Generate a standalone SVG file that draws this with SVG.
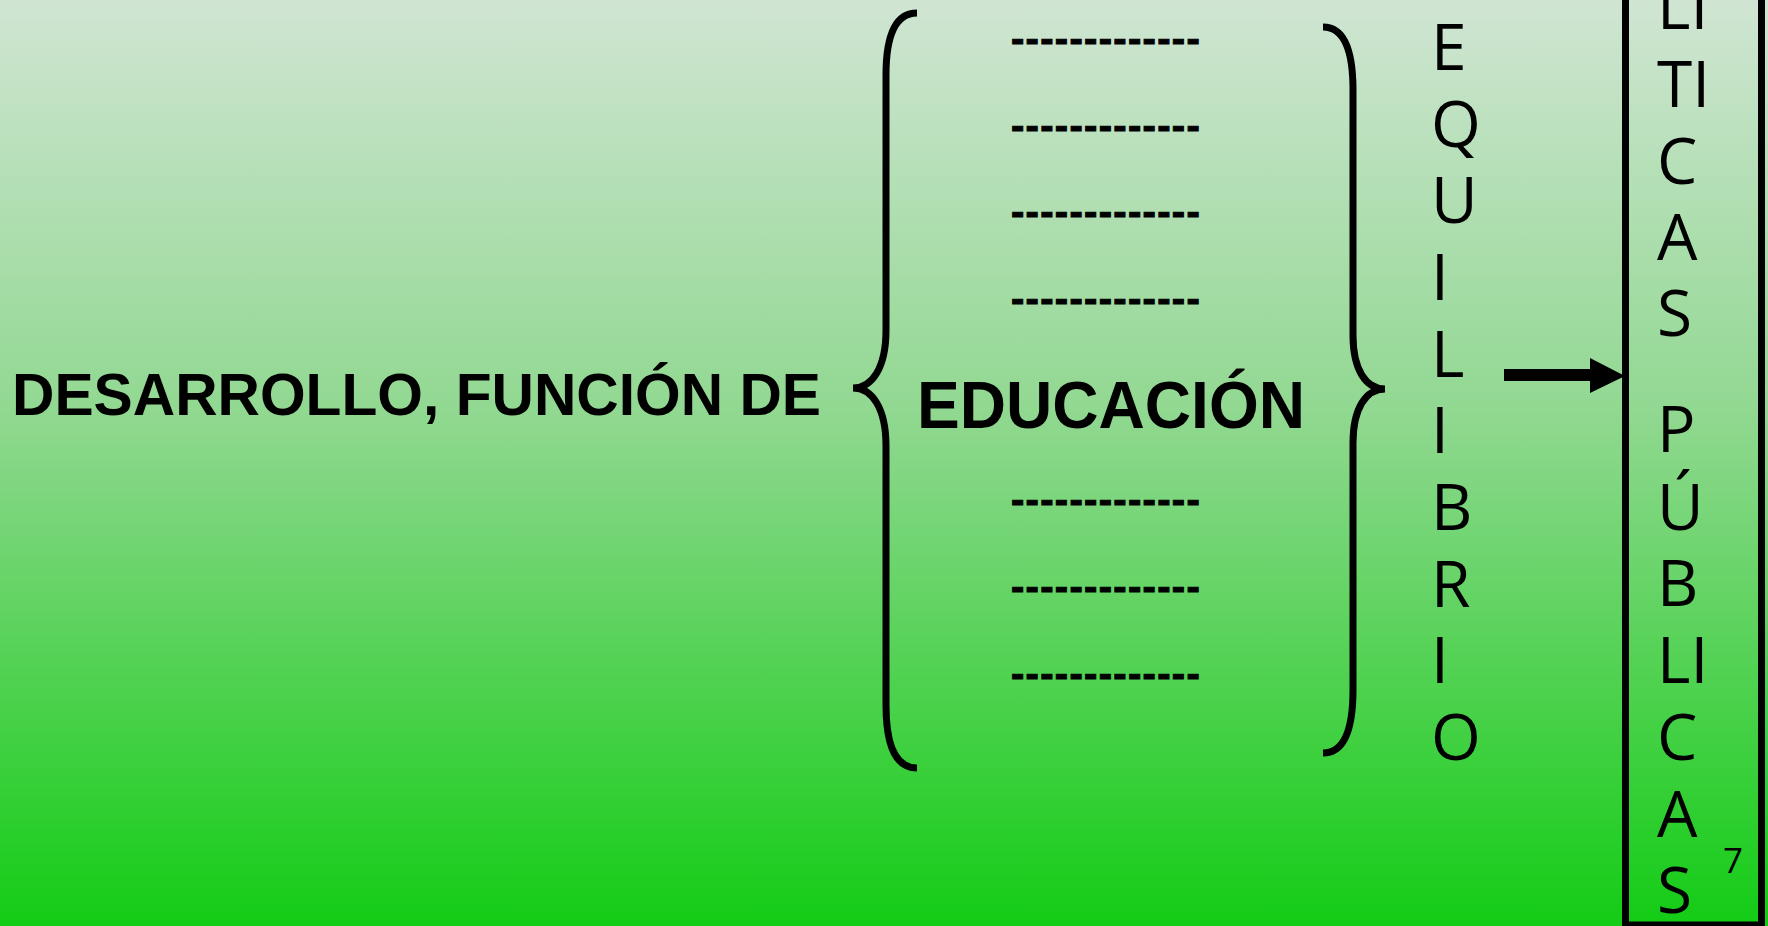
<svg xmlns="http://www.w3.org/2000/svg" width="1768" height="926" viewBox="0 0 1768 926">
<defs>
<linearGradient id="bg" x1="0" y1="0" x2="0" y2="1">
<stop offset="0" stop-color="#d0e5d3"/>
<stop offset="0.45" stop-color="#90d890"/>
<stop offset="1" stop-color="#13cc15"/>
</linearGradient>
<style>
.bold{font-family:"Liberation Sans",Arial,sans-serif;font-weight:bold;fill:#000}
.dash{font-family:"Liberation Sans",Arial,sans-serif;font-weight:bold;font-size:40px;letter-spacing:1.3px;fill:#000;stroke:#000;stroke-width:1}
.col{font-family:"Open Sans","Noto Sans",sans-serif;font-size:64px;fill:#000}
.num{font-family:"Open Sans","Noto Sans",sans-serif;font-size:35px;fill:#000}
.brace{fill:none;stroke:#000;stroke-width:7}
</style>
</defs>
<rect x="0" y="0" width="1768" height="926" fill="url(#bg)"/>
<g id="desarrollo">
<text class="bold" x="12" y="415" font-size="59" textLength="809" lengthAdjust="spacingAndGlyphs">DESARROLLO, FUNCIÓN DE</text>
</g>
<g id="educacion">
<path class="brace" d="M917,13 C896,13 886,35 886,75 L886,330 C886,368 872,388 853,388 C872,388 886,408 886,446 L886,705 C886,745 896,768 917,768"/>
<text class="dash" x="1011" y="52">-------------</text>
<text class="dash" x="1011" y="139">-------------</text>
<text class="dash" x="1011" y="225">-------------</text>
<text class="dash" x="1011" y="312">-------------</text>
<text class="bold" x="917" y="428" font-size="66" textLength="388" lengthAdjust="spacingAndGlyphs">EDUCACIÓN</text>
<text class="dash" x="1011" y="513">-------------</text>
<text class="dash" x="1011" y="600">-------------</text>
<text class="dash" x="1011" y="687">-------------</text>
<path class="brace" d="M1323,27 C1344,27 1353,50 1353,90 L1353,335 C1353,370 1366,389 1385,389 C1366,389 1353,408 1353,443 L1353,690 C1353,730 1344,753 1323,753"/>
</g>
<g id="equilibrio">
<text class="col"><tspan x="1431" y="70">E</tspan><tspan x="1431" y="146.7">Q</tspan><tspan x="1431" y="223.3">U</tspan><tspan x="1431" y="300">I</tspan><tspan x="1431" y="376.7">L</tspan><tspan x="1431" y="453.3">I</tspan><tspan x="1431" y="530">B</tspan><tspan x="1431" y="606.7">R</tspan><tspan x="1431" y="683.3">I</tspan><tspan x="1431" y="760">O</tspan></text>
</g>
<g id="connectors">
<rect x="1504" y="369" width="88" height="12" fill="#000"/>
<polygon points="1590,358 1625,376 1590,393" fill="#000"/>
</g>
<g id="politicas">
<rect x="1625.5" y="-40" width="136" height="965" fill="none" stroke="#000" stroke-width="7"/>
<text class="col"><tspan x="1657" y="29.3">LI</tspan><tspan x="1657" y="107">TI</tspan><tspan x="1657" y="184">C</tspan><tspan x="1657" y="260">A</tspan><tspan x="1657" y="336">S</tspan><tspan x="1657" y="452">P</tspan><tspan x="1657" y="530">Ú</tspan><tspan x="1657" y="606">B</tspan><tspan x="1657" y="683">LI</tspan><tspan x="1657" y="760">C</tspan><tspan x="1657" y="837">A</tspan><tspan x="1657" y="913">S</tspan></text>
<text class="num" x="1723" y="873">7</text>
</g>
</svg>
